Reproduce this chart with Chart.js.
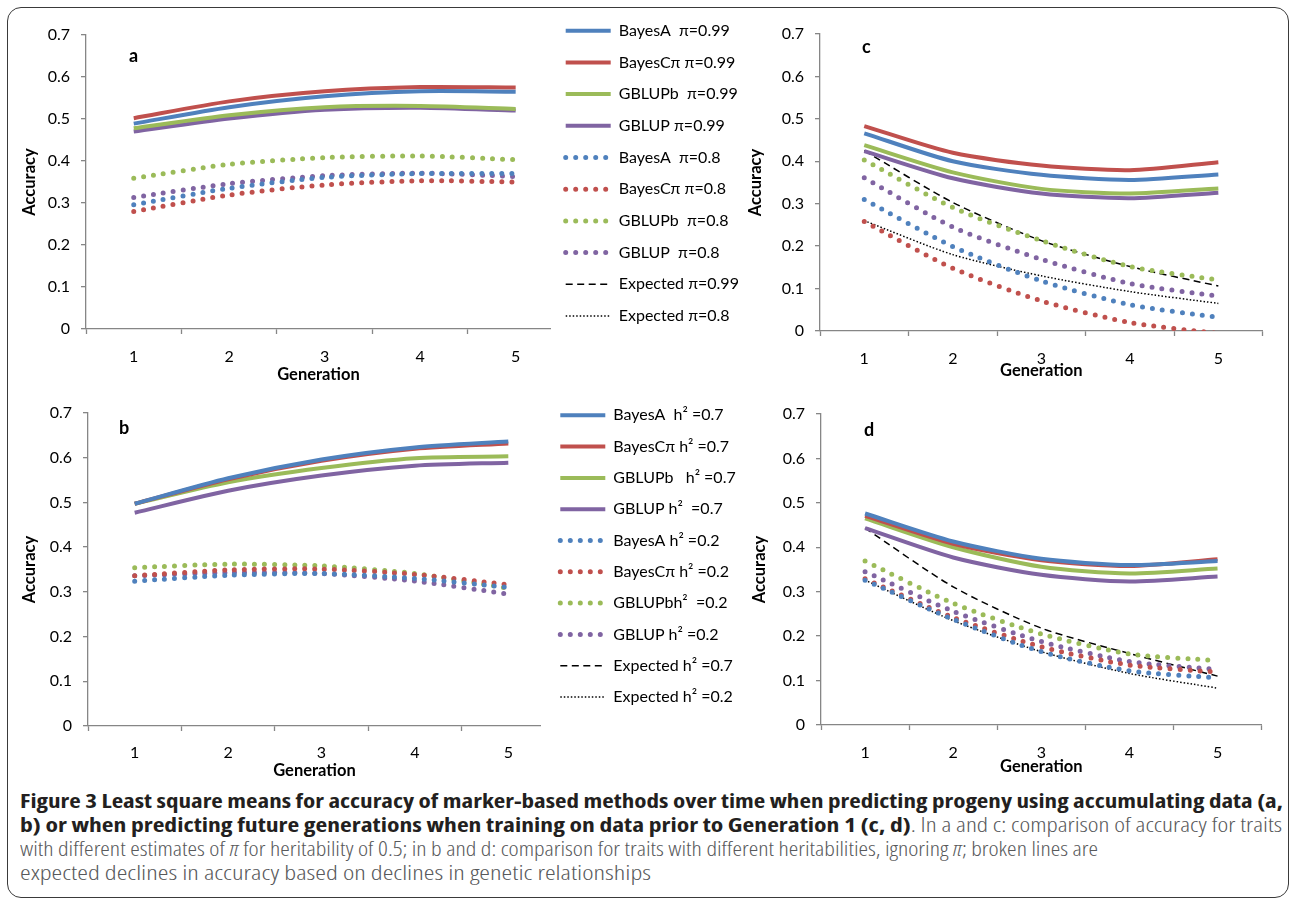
<!DOCTYPE html>
<html>
<head>
<meta charset="utf-8">
<script src="https://cdn.jsdelivr.net/npm/chart.js@4.4.1/dist/chart.umd.min.js"></script>
<style>
  body { margin: 0; background: #fff; }
  #fig { position: relative; width: 1292px; height: 903px; overflow: hidden; font-family: Lato, "Open Sans", sans-serif; }
  .frame { position: absolute; left: 7px; top: 7px; width: 1282px; height: 891px; box-sizing: border-box;
           border: 1.5px solid #3a3a3a; border-radius: 14px; }
  canvas { position: absolute; }
  .cap { position: absolute; left: 20px; white-space: nowrap; transform-origin: 0 50%;
         font-family: "Liberation Sans Narrow", "Open Sans", sans-serif; font-stretch: condensed;
         font-size: 20px; line-height: 22px; color: #58595b; font-weight: 300; }
  .cap b { color: #231f20; font-weight: 700; }
</style>
</head>
<body>
<div id="fig">
  <div class="frame"></div>
  <canvas id="legendA" width="260" height="345" style="left:550px;top:7px"></canvas>
  <canvas id="legendB" width="260" height="345" style="left:545px;top:392px"></canvas>
  <canvas id="chartA" width="551" height="389" style="left:0;top:0"></canvas>
  <canvas id="chartB" width="541" height="406" style="left:0;top:380px"></canvas>
  <canvas id="chartC" width="576" height="391" style="left:700px;top:0"></canvas>
  <canvas id="chartD" width="575" height="405" style="left:700px;top:380px"></canvas>

  <div class="cap" style="top:790px" data-w="1263"><b>Figure 3 Least square means for accuracy of marker-based methods over time when predicting progeny using accumulating data (a,</b></div>
  <div class="cap" style="top:814px" data-w="1262"><b>b) or when predicting future generations when training on data prior to Generation 1 (c, d)</b>. In a and c: comparison of accuracy for traits</div>
  <div class="cap" style="top:838px" data-w="1078">with different estimates of <i>π</i> for heritability of 0.5; in b and d: comparison for traits with different heritabilities, ignoring <i>π</i>; broken lines are</div>
  <div class="cap" style="top:862px" data-w="631">expected declines in accuracy based on declines in genetic relationships</div>
</div>

<script>
// generations on the x axis
const generations = [1, 2, 3, 4, 5];

// panel a: accumulating data, pi = 0.99 / 0.8
const aBayesA99   = [0.489, 0.528, 0.554, 0.566, 0.565];
const aBayesCpi99 = [0.502, 0.542, 0.566, 0.576, 0.575];
const aGBLUPb99   = [0.478, 0.509, 0.528, 0.531, 0.524];
const aGBLUP99    = [0.470, 0.501, 0.522, 0.527, 0.520];
const aBayesA80   = [0.296, 0.335, 0.361, 0.370, 0.370];
const aBayesCpi80 = [0.280, 0.319, 0.343, 0.353, 0.350];
const aGBLUPb80   = [0.359, 0.392, 0.408, 0.412, 0.403];
const aGBLUP80    = [0.313, 0.346, 0.365, 0.371, 0.363];

// panel b: accumulating data, h2 = 0.7 / 0.2
const bBayesA7   = [0.497, 0.554, 0.596, 0.623, 0.636];
const bBayesCpi7 = [0.497, 0.552, 0.593, 0.620, 0.632];
const bGBLUPb7   = [0.497, 0.545, 0.577, 0.599, 0.603];
const bGBLUP7    = [0.477, 0.526, 0.560, 0.582, 0.589];
const bBayesA2   = [0.324, 0.337, 0.341, 0.330, 0.310];
const bBayesCpi2 = [0.336, 0.349, 0.351, 0.339, 0.316];
const bGBLUPb2   = [0.354, 0.362, 0.358, 0.341, 0.308];
const bGBLUP2    = [0.336, 0.343, 0.341, 0.324, 0.295];

// panel c: training before generation 1, pi = 0.99 / 0.8
const cBayesA99   = [0.466, 0.400, 0.368, 0.356, 0.369];
const cBayesCpi99 = [0.483, 0.420, 0.390, 0.379, 0.398];
const cGBLUPb99   = [0.438, 0.374, 0.335, 0.324, 0.336];
const cGBLUP99    = [0.424, 0.360, 0.324, 0.313, 0.326];
const cBayesA80   = [0.310, 0.199, 0.118, 0.062, 0.032];
const cBayesCpi80 = [0.258, 0.148, 0.071, 0.020, -0.006];
const cGBLUPb80   = [0.403, 0.291, 0.213, 0.152, 0.120];
const cGBLUP80    = [0.361, 0.245, 0.169, 0.112, 0.082];
const cExpected99 = [0.425, 0.303, 0.213, 0.152, 0.106];
const cExpected80 = [0.260, 0.180, 0.130, 0.093, 0.065];

// panel d: training before generation 1, h2 = 0.7 / 0.2
const dBayesA7   = [0.476, 0.413, 0.374, 0.360, 0.369];
const dBayesCpi7 = [0.471, 0.408, 0.371, 0.358, 0.373];
const dGBLUPb7   = [0.465, 0.400, 0.356, 0.341, 0.352];
const dGBLUP7    = [0.443, 0.377, 0.338, 0.323, 0.334];
const dBayesA2   = [0.326, 0.238, 0.165, 0.122, 0.106];
const dBayesCpi2 = [0.329, 0.242, 0.176, 0.135, 0.119];
const dGBLUPb2   = [0.369, 0.274, 0.205, 0.160, 0.145];
const dGBLUP2    = [0.345, 0.256, 0.188, 0.143, 0.125];
const dExpected7 = [0.443, 0.311, 0.218, 0.161, 0.110];
const dExpected2 = [0.326, 0.235, 0.165, 0.116, 0.083];

// legend texts
const legendLabelsPi = ['BayesA  π=0.99', 'BayesCπ π=0.99', 'GBLUPb  π=0.99', 'GBLUP π=0.99',
  'BayesA  π=0.8', 'BayesCπ π=0.8', 'GBLUPb  π=0.8', 'GBLUP  π=0.8', 'Expected π=0.99', 'Expected π=0.8'];
const legendLabelsH2 = ['BayesA  h² =0.7', 'BayesCπ h² =0.7', 'GBLUPb   h² =0.7', 'GBLUP h²  =0.7',
  'BayesA h² =0.2', 'BayesCπ h² =0.2', 'GBLUPbh²  =0.2', 'GBLUP h² =0.2', 'Expected h² =0.7', 'Expected h² =0.2'];

const BLUE = '#4F81BD', RED = '#C0504D', GREEN = '#9BBB59', PURPLE = '#8064A2';
const AXIS = '#868686';
const FONT = 'Lato, "Open Sans", sans-serif';

// line styles, in legend order
const styles = [
  { color: BLUE, kind: 'solid' }, { color: RED, kind: 'solid' },
  { color: GREEN, kind: 'solid' }, { color: PURPLE, kind: 'solid' },
  { color: BLUE, kind: 'dots' }, { color: RED, kind: 'dots' },
  { color: GREEN, kind: 'dots' }, { color: PURPLE, kind: 'dots' },
  { color: '#000', kind: 'dash' }, { color: '#000', kind: 'fine' }
];

function lineStyle(s) {
  if (s.kind === 'solid') return { borderColor: s.color, borderWidth: 4, borderDash: [], borderCapStyle: 'butt' };
  if (s.kind === 'dots') return { borderColor: s.color, borderWidth: 5, borderDash: [0, 10], borderCapStyle: 'round' };
  if (s.kind === 'dash') return { borderColor: s.color, borderWidth: 1.5, borderDash: [7, 4.5], borderCapStyle: 'butt' };
  return { borderColor: s.color, borderWidth: 1.5, borderDash: [1.5, 2], borderCapStyle: 'butt' };
}

const toPoints = vals => generations.map((g, i) => ({ x: g, y: vals[i] }));

function series(list, labels) {
  return list.map((vals, i) => Object.assign({
    label: labels[i], data: toPoints(vals), pointRadius: 0, tension: 0.25, fill: false
  }, lineStyle(styles[i])));
}

// draws the bold panel letter inside the plot area
const panelLetter = {
  id: 'panelLetter',
  afterDatasetsDraw(chart, args, opts) {
    const { ctx, chartArea } = chart;
    ctx.save();
    ctx.font = 'bold 18px ' + FONT;
    ctx.fillStyle = '#000';
    ctx.textBaseline = 'middle';
    ctx.fillText(opts.text, chartArea.left + opts.dx, chartArea.top + opts.dy);
    ctx.restore();
  }
};

function drawPanel(id, datasets, cfg) {
  new Chart(document.getElementById(id), {
    type: 'line',
    data: { datasets: datasets },
    options: {
      responsive: false,
      animation: false,
      events: [],
      layout: { padding: { top: cfg.top, left: 0, right: 0, bottom: 0 } },
      scales: {
        x: {
          type: 'linear', min: 0.5, max: cfg.xMax,
          afterBuildTicks: axis => {
            const t = [];
            for (let v = 0.5; v <= cfg.xMax + 1e-9; v += 0.5) t.push({ value: v });
            axis.ticks = t;
          },
          afterFit: axis => { axis.height = 60; },
          ticks: {
            autoSkip: false, maxRotation: 0, padding: cfg.xPad, color: '#000',
            font: { family: FONT, size: 16 },
            callback: v => Number.isInteger(v) ? String(v) : ''
          },
          grid: {
            drawOnChartArea: false, tickLength: 5, tickWidth: 1.3,
            tickColor: c => (c.tick && Number.isInteger(c.tick.value)) ? 'rgba(0,0,0,0)' : AXIS
          },
          border: { color: AXIS, width: 1.3 },
          title: {
            display: true, text: 'Generation', color: '#000',
            font: { family: FONT, size: 16.5, weight: 'bold' },
            padding: { top: 0, bottom: cfg.genPad }
          }
        },
        y: {
          min: 0, max: 0.7,
          afterFit: axis => { axis.width = cfg.yWidth; },
          ticks: { stepSize: 0.1, padding: 11, color: '#000', font: { family: FONT, size: 16 } },
          grid: { drawOnChartArea: false, tickLength: 5, color: AXIS, lineWidth: 1.3 },
          border: { color: AXIS, width: 1.3 },
          title: {
            display: true, text: 'Accuracy', color: '#000',
            font: { family: FONT, size: 16.5, weight: 'bold' },
            padding: { top: cfg.accPad, bottom: 0 }
          }
        }
      },
      plugins: {
        legend: { display: false },
        tooltip: { enabled: false },
        panelLetter: { text: cfg.letter, dx: cfg.dx, dy: cfg.dy }
      }
    },
    plugins: [panelLetter]
  });
}

// legend-only chart: empty datasets carrying the line styles
function drawLegend(id, labels, pad) {
  new Chart(document.getElementById(id), {
    type: 'line',
    data: {
      datasets: labels.map((label, i) => Object.assign({ label: label, data: [] }, lineStyle(styles[i])))
    },
    options: {
      responsive: false,
      animation: false,
      events: [],
      scales: { x: { display: false }, y: { display: false } },
      plugins: {
        tooltip: { enabled: false },
        legend: {
          position: 'left', align: 'start', maxWidth: 230,
          labels: {
            usePointStyle: true, pointStyleWidth: 45, padding: pad, color: '#000',
            font: { family: FONT, size: 16 },
            generateLabels: chart => chart.data.datasets.map((ds, i) => ({
              text: ds.label, fillStyle: 'rgba(0,0,0,0)', strokeStyle: ds.borderColor,
              lineWidth: ds.borderWidth, lineDash: ds.borderDash, lineCap: ds.borderCapStyle,
              pointStyle: 'line', hidden: false, datasetIndex: i, fontColor: '#000'
            }))
          }
        }
      }
    }
  });
}

drawLegend('legendA', legendLabelsPi, 15.7);
drawLegend('legendB', legendLabelsH2, 15.3);

drawPanel('chartA',
  series([aBayesA99, aBayesCpi99, aGBLUPb99, aGBLUP99, aBayesA80, aBayesCpi80, aGBLUPb80, aGBLUP80], legendLabelsPi),
  { top: 35, yWidth: 86, xMax: 5.37, xPad: 13.4, genPad: 4, accPad: 20, letter: 'a', dx: 43, dy: 21 });

drawPanel('chartB',
  series([bBayesA7, bBayesCpi7, bGBLUPb7, bGBLUP7, bBayesA2, bBayesCpi2, bGBLUPb2, bGBLUP2], legendLabelsH2),
  { top: 33, yWidth: 88, xMax: 5.35, xPad: 12.4, genPad: 5, accPad: 20, letter: 'b', dx: 31, dy: 15 });

drawPanel('chartC',
  series([cBayesA99, cBayesCpi99, cGBLUPb99, cGBLUP99, cBayesA80, cBayesCpi80, cGBLUPb80, cGBLUP80, cExpected99, cExpected80], legendLabelsPi),
  { top: 34, yWidth: 120, xMax: 5.5, xPad: 13.4, genPad: 10, accPad: 45.7, letter: 'c', dx: 42, dy: 13 });

drawPanel('chartD',
  series([dBayesA7, dBayesCpi7, dGBLUPb7, dGBLUP7, dBayesA2, dBayesCpi2, dGBLUPb2, dGBLUP2, dExpected7, dExpected2], legendLabelsH2),
  { top: 34, yWidth: 121, xMax: 5.5, xPad: 13.4, genPad: 8, accPad: 49.5, letter: 'd', dx: 43, dy: 16 });

// squeeze caption lines to the widths they take in the figure
document.fonts.ready.then(() => {
  document.querySelectorAll('.cap').forEach(el => {
    const w = el.getBoundingClientRect().width;
    el.style.transform = 'scaleX(' + (Number(el.dataset.w) / w) + ')';
  });
});
</script>
</body>
</html>
